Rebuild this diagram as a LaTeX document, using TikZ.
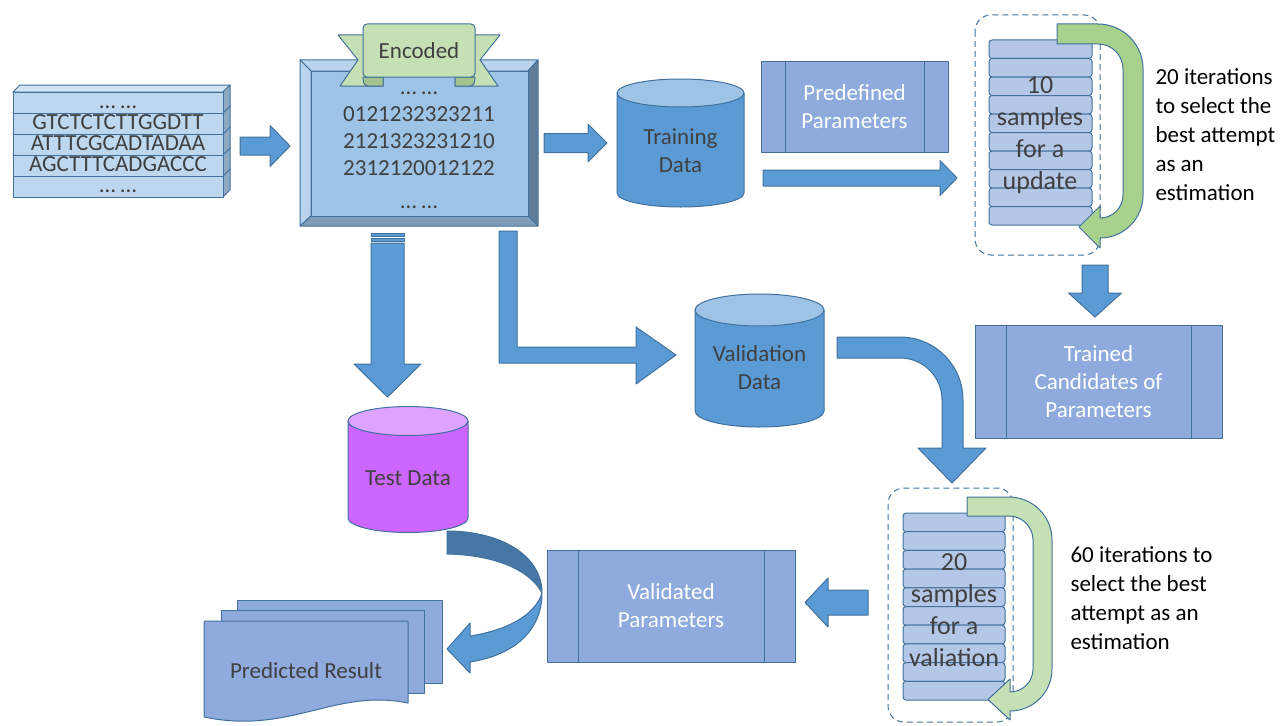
\documentclass[tikz,border=0pt]{standalone}
\usepackage{fontspec}
\setmainfont{Carlito}
\usetikzlibrary{calc}

\definecolor{edge}{HTML}{41719C}
\definecolor{flow}{HTML}{5B9BD5}
\definecolor{flowdark}{HTML}{4677A6}
\definecolor{proc}{HTML}{8FAADC}
\definecolor{slot}{HTML}{B4C7E7}
\definecolor{seqfront}{HTML}{BDD7EE}
\definecolor{seqtop}{HTML}{D2E3F3}
\definecolor{seqside}{HTML}{8EA9C1}
\definecolor{bevlight}{HTML}{B9D4EC}
\definecolor{bevdark}{HTML}{5F7D9A}
\definecolor{bevlow}{HTML}{7F9DBA}
\definecolor{encface}{HTML}{9DC3E6}
\definecolor{ribbon}{HTML}{C5E0B4}
\definecolor{ribbonfold}{HTML}{A5C38D}
\definecolor{loopA}{HTML}{A9D18E}
\definecolor{loopB}{HTML}{C5E0B4}
\definecolor{dbbody}{HTML}{5B9BD5}
\definecolor{dbtop}{HTML}{9DC3E6}
\definecolor{testbody}{HTML}{CC66FF}
\definecolor{testtop}{HTML}{DDA3FF}
\definecolor{txtgray}{HTML}{404040}

\newcommand\lbl{\fontsize{23}{28}\selectfont}
\newcommand\slotfont{\fontsize{26}{32}\selectfont}

\tikzset{
  flowarrow/.style={draw=edge, fill=flow},
  procbox/.style={draw=edge, fill=proc, text=white, align=center,
    path picture={\draw[edge]
      ([xshift=#1]path picture bounding box.north west) -- ([xshift=#1]path picture bounding box.south west)
      ([xshift=-#1]path picture bounding box.north east) -- ([xshift=-#1]path picture bounding box.south east);}},
  slotrow/.style={draw=edge, fill=slot, rounded corners=3pt},
  loopline/.style={draw=edge, dash pattern=on 6pt off 4pt, rounded corners=16pt},
  seqtext/.style={text height=15.5pt, text depth=4.5pt},
  note/.style={align=left, text=black, font=\fontsize{23}{29}\selectfont},
}

% block arrow: tail, tip, shaft half width, head half width, head length
\newcommand\blockarrow[5]{%
  \coordinate (bahead) at ($(#2)!#5pt!(#1)$);
  \filldraw[flowarrow] ($(#1)!#3pt!90:(#2)$) -- ($(bahead)!#3pt!-90:(#1)$)
    -- ($(bahead)!#4pt!-90:(#1)$) -- (#2) -- ($(bahead)!#4pt!90:(#1)$)
    -- ($(bahead)!#3pt!90:(#1)$) -- ($(#1)!#3pt!-90:(#2)$) -- cycle;
}
% database: cx, top y, bottom y, rx, ry, colour prefix
\newcommand\dbcyl[6]{%
  \filldraw[draw=edge, fill=#6body] (#1-#4,#2) -- (#1-#4,#3)
    arc[start angle=180, end angle=360, x radius=#4pt, y radius=#5pt] -- (#1+#4,#2) -- cycle;
  \filldraw[draw=edge, fill=#6top] (#1,#2) ellipse[x radius=#4pt, y radius=#5pt];
}

\begin{document}
\begin{tikzpicture}[x=1pt, y=-1pt, line width=1pt, line join=round,
    every node/.style={font=\lbl, text=txtgray, inner sep=0pt}]
\useasboundingbox (0,0) rectangle (1284,725);

% input sequences
\foreach \i/\seqtxt in {4/{… …}, 3/AGCTTTCADGACCC, 2/ATTTCGCADTADAA, 1/GTCTCTCTTGGDTT, 0/{… …}} {
  \pgfmathsetmacro\ytop{92+21*\i}
  \filldraw[draw=edge, fill=seqtop] (13,\ytop) -- ++(7,-7) -- ++(210,0) -- ++(-7,7) -- cycle;
  \filldraw[draw=edge, fill=seqside] (223,\ytop) -- ++(7,-7) -- ++(0,21) -- ++(-7,7) -- cycle;
  \filldraw[draw=edge, fill=seqfront] (13,\ytop) rectangle ++(210,21);
  \node[seqtext] (row\i) at (118,\ytop+10.5) {\seqtxt};
}

% encoded block
\filldraw[draw=edge, fill=bevlight] (300,60) -- (538,60) -- (528,71) -- (311,71) -- cycle;
\filldraw[draw=edge, fill=bevlight] (300,60) -- (311,71) -- (311,216) -- (300,226) -- cycle;
\filldraw[draw=edge, fill=bevdark] (538,60) -- (538,226) -- (528,216) -- (528,71) -- cycle;
\filldraw[draw=edge, fill=bevlow] (300,226) -- (538,226) -- (528,216) -- (311,216) -- cycle;
\filldraw[draw=edge, fill=encface] (311,71) rectangle (528,216);
\node[align=center, font=\fontsize{23}{27}\selectfont] (enc) at (419,145.6)
  {\strut… …\\0121232323211\\2121323231210\\2312120012122\\[6pt]… …\strut};

% ribbon
\filldraw[draw=edge, fill=ribbon] (338,35) -- (383,35) -- (383,86) -- (340,86) -- (358,60) -- cycle;
\filldraw[draw=edge, fill=ribbon] (500,35) -- (455,35) -- (455,86) -- (498,86) -- (480,60) -- cycle;
\filldraw[draw=edge, fill=ribbonfold] (363,77) -- (383,77) -- (383,86) -- (368,86) .. controls (364,86) and (363,82) .. (363,77) -- cycle;
\filldraw[draw=edge, fill=ribbonfold] (475,77) -- (455,77) -- (455,86) -- (470,86) .. controls (474,86) and (475,82) .. (475,77) -- cycle;
\filldraw[draw=edge, fill=ribbon, rounded corners=4pt] (363,24) rectangle (475,77);
\node (tag) at (419,51) {Encoded};

% databases
\dbcyl{680.5}{93}{193}{63.5}{14}{db}
\node[align=center] (train) at (680.5,151) {Training\\Data};
\dbcyl{759.5}{310}{411}{64.5}{16}{db}
\node[align=center] (valid) at (759.5,368) {Validation\\Data};
\dbcyl{408}{421}{518}{60}{14.5}{test}
\node (test) at (408,478) {Test Data};

% parameter boxes
\node[procbox=24pt, minimum width=187pt, minimum height=90pt] (predef) at (854.5,107) {Predefined\\Parameters};
\node[procbox=31pt, minimum width=247pt, minimum height=113pt] (trained) at (1098.5,381.5) {Trained\\Candidates of\\Parameters};
\node[procbox=31pt, minimum width=248pt, minimum height=112pt] (validated) at (671,606) {Validated\\Parameters};

% training loop
\draw[loopline] (975,15) rectangle (1100,255);
\foreach \k in {0,...,9} \draw[slotrow] (989,{40+18.5*\k}) rectangle ++(103,18.5);
\node[align=center, font=\slotfont] (upd) at (1040,135) {10\\samples\\for a\\update};
\filldraw[draw=edge, fill=loopA] (1057,24) -- (1098,24) arc[start angle=90, end angle=0, radius=45pt]
  -- (1143,195) arc[start angle=0, end angle=-90, radius=43pt] -- (1100,248) -- (1079,227) -- (1100,206)
  -- (1100,218) arc[start angle=-90, end angle=0, radius=23pt] -- (1123,69)
  arc[start angle=0, end angle=90, radius=25pt] -- (1057,44) -- cycle;
\node[note, anchor=west] (iterA) at (1155,135) {20 iterations\\to select the\\best attempt\\as an\\estimation};

% validation loop
\draw[loopline] (888,488) rectangle (1013,722);
\foreach \k in {0,...,9} \draw[slotrow] (903,{513+18.7*\k}) rectangle ++(102,18.7);
\node[align=center, font=\slotfont] (val) at (954,610) {20\\samples\\for a\\valiation};
\filldraw[draw=edge, fill=loopB] (967,497) -- (1009,497) arc[start angle=90, end angle=0, radius=43pt]
  -- (1052,669) arc[start angle=0, end angle=-90, radius=42pt] -- (1010,720) -- (988,699.5) -- (1010,679)
  -- (1010,692) arc[start angle=-90, end angle=0, radius=23pt] -- (1033,540)
  arc[start angle=0, end angle=90, radius=24pt] -- (967,516) -- cycle;
\node[note, anchor=west] (iterB) at (1070,598) {60 iterations to\\select the best\\attempt as an\\estimation};

% predicted result
\filldraw[draw=edge, fill=proc] (237,600) rectangle (442,683);
\filldraw[draw=edge, fill=proc] (221,610) rectangle (424,693);
\filldraw[draw=edge, fill=proc] (204,621) -- (408,621) -- (408,703) .. controls (335,688) and (290,735) .. (204,717) -- cycle;
\node (pred) at (306,671) {Predicted Result};

% straight arrows
\coordinate (a1s) at (240,146);    \coordinate (a1e) at (290,146);
\coordinate (a2s) at (544,143);    \coordinate (a2e) at (607,143);
\coordinate (a3s) at (763,178);    \coordinate (a3e) at (957,178);
\coordinate (a4s) at (1095,265);   \coordinate (a4e) at (1095,317);
\coordinate (a5s) at (387.5,243);  \coordinate (a5e) at (387.5,397);
\coordinate (a6s) at (868,602.5);  \coordinate (a6e) at (805,602.5);
\blockarrow{a1s}{a1e}{9}{20.5}{20}
\blockarrow{a2s}{a2e}{9.5}{19}{19}
\blockarrow{a3s}{a3e}{8}{17.5}{17}
\blockarrow{a4s}{a4e}{13}{26.5}{24}
\blockarrow{a5s}{a5e}{16.5}{33.5}{33}
\blockarrow{a6s}{a6e}{12.5}{24.5}{23}
\filldraw[flowarrow] (371,233) rectangle (404,236);
\filldraw[flowarrow] (371,238) rectangle (404,241);

% bent arrows
\filldraw[flowarrow] (499,231) -- (517,231) -- (517,347) -- (636,347) -- (636,327) -- (676,355)
  -- (636,384) -- (636,363) -- (499,363) -- cycle;
\filldraw[flowarrow] (837,337) -- (900,337) arc[start angle=90, end angle=0, radius=63pt] -- (963,448)
  -- (986,448) -- (952,483) -- (918,448) -- (942,448) -- (942,400)
  arc[start angle=0, end angle=90, radius=42pt] -- (837,358) -- cycle;
\filldraw[draw=edge, fill=flowdark] (447,531) .. controls (500,531) and (542,555) .. (542,593)
  .. controls (530,570) and (495,555) .. (447,554) -- cycle;
\filldraw[flowarrow] (542,593) .. controls (542,630) and (515,655) .. (470,662) -- (470,673) -- (447,649)
  -- (470,623) -- (470,636) .. controls (508,630) and (535,615) .. (542,593) -- cycle;
\end{tikzpicture}
\end{document}
